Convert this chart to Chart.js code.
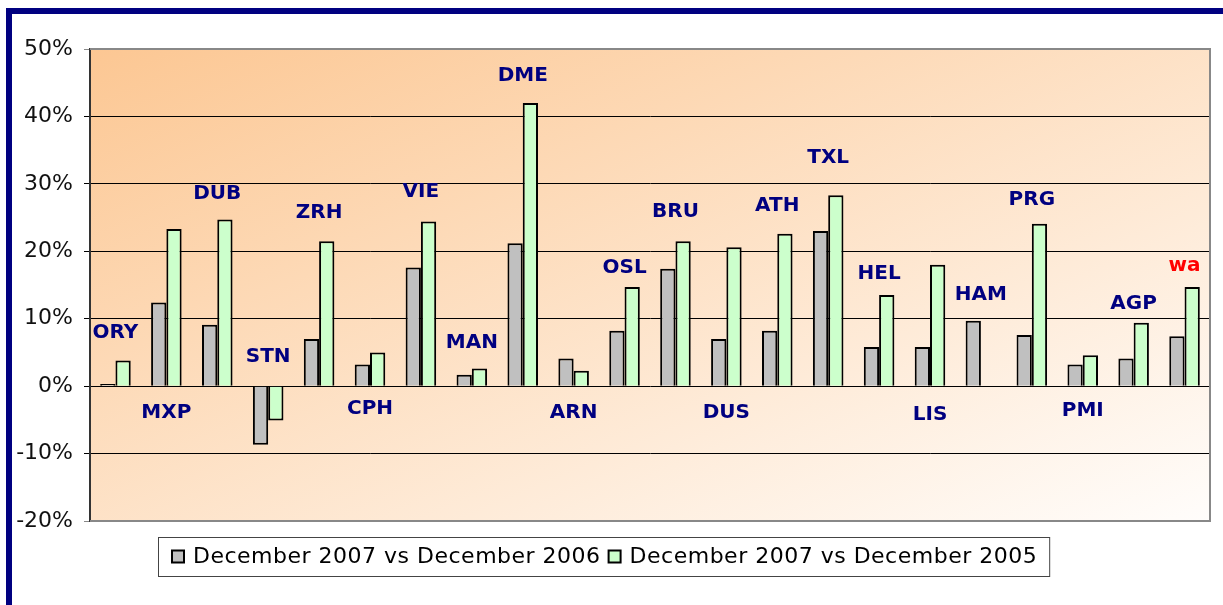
<!DOCTYPE html>
<html>
<head>
<meta charset="utf-8">
<script src="https://cdn.jsdelivr.net/npm/chart.js@4/dist/chart.umd.min.js"></script>
<style>
  body { margin: 0; background: #fff; }
  canvas { display: block; }
</style>
</head>
<body>
<canvas id="airports" width="1223" height="605"></canvas>
<script>
// airport codes along the x axis
const airports = ["ORY", "MXP", "DUB", "STN", "ZRH", "CPH", "VIE", "MAN", "DME", "ARN", "OSL",
  "BRU", "DUS", "ATH", "TXL", "HEL", "LIS", "HAM", "PRG", "PMI", "AGP", "wa"];

// growth in %
const vs2006 = [0.3, 12.4, 9.1, -8.7, 7.0, 3.2, 17.6, 1.7, 21.2, 4.1, 8.2,
  17.4, 7.0, 8.2, 23.0, 5.8, 5.8, 9.7, 7.6, 3.2, 4.1, 7.4];
const vs2005 = [3.8, 23.3, 24.7, -5.1, 21.5, 5.0, 24.4, 2.6, 42.0, 2.3, 14.7,
  21.5, 20.6, 22.6, 28.3, 13.5, 18.0, null, 24.1, 4.6, 9.4, 14.7];

// level (in %) where each airport code sits
const labelLevel = [7.9, -3.9, 28.6, 4.3, 25.7, -3.3, 28.8, 6.4, 46.1, -3.9, 17.6,
  25.8, -3.9, 26.7, 33.8, 16.6, -4.3, 13.5, 27.7, -3.6, 12.2, 17.8];

const yTicks = [-20, -10, 0, 10, 20, 30, 40, 50];
const seriesNames = ["December 2007 vs December 2006", "December 2007 vs December 2005"];

// page background, navy frame and gradient plot area
const backdrop = {
  id: "backdrop",
  beforeDraw(chart) {
    const { ctx, chartArea: a } = chart;
    ctx.save();
    ctx.fillStyle = "#ffffff";
    ctx.fillRect(0, 0, chart.width, chart.height);
    ctx.fillStyle = "#000080";
    ctx.fillRect(6, 8, chart.width - 6, 6);
    ctx.fillRect(6, 8, 6, chart.height - 8);

    // diagonal gradient whose bands run corner to corner
    const w = a.width, h = a.height, s = w * w + h * h;
    const g = ctx.createLinearGradient(a.left, a.top,
      a.left + 2 * w * h * h / s, a.top + 2 * w * w * h / s);
    g.addColorStop(0, "#fcc793");
    g.addColorStop(1, "#fffdfb");
    ctx.fillStyle = g;
    ctx.fillRect(a.left, a.top, w, h);
    ctx.restore();
  },
};

// airport codes, plot frame and the boxed legend
const decorations = {
  id: "decorations",
  afterDatasetsDraw(chart) {
    const { ctx, scales } = chart;
    ctx.save();
    ctx.font = "bold 20px 'DejaVu Sans', Verdana, sans-serif";
    ctx.textAlign = "center";
    ctx.textBaseline = "middle";
    airports.forEach((code, i) => {
      ctx.fillStyle = code === "wa" ? "#ff0000" : "#000080";
      ctx.fillText(code, scales.x.getPixelForValue(i), scales.y.getPixelForValue(labelLevel[i]));
    });
    ctx.restore();
  },
  afterDraw(chart) {
    const { ctx, chartArea: a } = chart;
    ctx.save();
    ctx.strokeStyle = "#888888";
    ctx.lineWidth = 2;
    ctx.beginPath();
    ctx.moveTo(a.left, a.top);
    ctx.lineTo(a.right, a.top);
    ctx.lineTo(a.right, a.bottom);
    ctx.lineTo(a.left, a.bottom);
    ctx.stroke();

    // legend
    ctx.font = "22px 'DejaVu Sans', Verdana, sans-serif";
    ctx.letterSpacing = "0.5px";
    ctx.textBaseline = "middle";
    const boxLeft = 158, boxTop = 537, boxH = 39, midY = boxTop + boxH / 2;
    let x = boxLeft + 14;
    chart.data.datasets.forEach((ds) => {
      ctx.fillStyle = ds.backgroundColor;
      ctx.fillRect(x, midY - 6, 12, 12);
      ctx.strokeStyle = "#000";
      ctx.lineWidth = 2;
      ctx.strokeRect(x, midY - 6, 12, 12);
      x += 21;
      ctx.fillStyle = "#000";
      ctx.fillText(ds.label, x, midY + 1);
      x += ctx.measureText(ds.label).width + 8;
    });
    ctx.strokeStyle = "#444";
    ctx.lineWidth = 1;
    ctx.strokeRect(boxLeft + 0.5, boxTop + 0.5, x - boxLeft + 4, boxH);
    ctx.restore();
  },
};

new Chart(document.getElementById("airports"), {
  type: "bar",
  data: {
    labels: airports,
    datasets: [
      {
        label: seriesNames[0],
        data: vs2006,
        backgroundColor: "#c0c0c0",
        borderColor: "#000000",
        borderWidth: 2,
      },
      {
        label: seriesNames[1],
        data: vs2005,
        backgroundColor: "#ccffcc",
        borderColor: "#000000",
        borderWidth: 2,
      },
    ],
  },
  options: {
    responsive: false,
    animation: false,
    layout: { padding: { left: 0, top: 49, right: 13, bottom: 84 } },
    datasets: { bar: { categoryPercentage: 0.6, barPercentage: 1.0 } },
    plugins: {
      legend: { display: false },
      tooltip: { enabled: false },
    },
    scales: {
      x: { display: false },
      y: {
        min: -20,
        max: 50,
        afterFit: (scale) => { scale.width = 90; },
        afterBuildTicks: (scale) => { scale.ticks = yTicks.map((v) => ({ value: v })); },
        ticks: {
          padding: 11,
          color: "#111",
          font: { family: "'DejaVu Sans', Verdana, sans-serif", size: 22 },
          callback: (v) => v + "%",
        },
        grid: {
          tickLength: 6,
          lineWidth: 1,
          color: (c) => (c.tick && (c.tick.value === 50 || c.tick.value === -20) ? "#888888" : "#000000"),
        },
        border: { display: true, color: "#333333", width: 2 },
      },
    },
  },
  plugins: [backdrop, decorations],
});
</script>
</body>
</html>
